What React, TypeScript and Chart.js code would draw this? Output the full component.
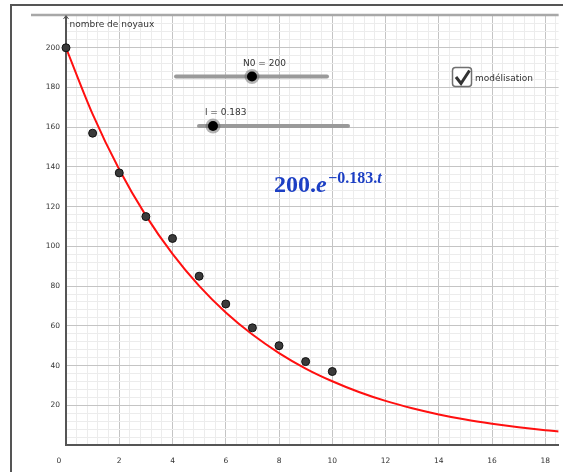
import React, { useEffect, useRef } from "react";
import { Chart, registerables } from "chart.js";

Chart.register(...registerables);

// Measured decay data (t, nombre de noyaux)
const sampleTimes = [0, 1, 2, 3, 4, 5, 6, 7, 8, 9, 10];
const sampleCounts = [200, 157, 137, 115, 104, 85, 71, 59, 50, 42, 37];

// Model curve
const curveTimes = [0, 1, 2, 3, 4, 5, 6, 7, 8, 9, 10, 11, 12, 13, 14, 15, 16, 17, 18, 18.5];
const curveCounts = [200, 166.6, 138.7, 115.5, 96.2, 80.1, 66.7, 55.6, 46.3, 38.5, 32.1, 26.7, 22.2, 18.5, 15.4, 12.8, 10.7, 8.9, 7.4, 6.8];

const xMax = 18.5;
const yMax = 216.5;
const xMinorStep = 0.4;
const yMinorStep = 4;
const xMajorStep = 2;
const yMajorStep = 20;

const yTitle = "nombre de noyaux";
const slider1Label = "N0 = 200";
const slider2Label = "l = 0.183";
const checkboxLabel = "modélisation";
const formulaMain = "200.";
const formulaE = "e";
const formulaExp = "−0.183.";
const formulaT = "t";

const isMultiple = (v: number, step: number) => Math.abs(v / step - Math.round(v / step)) < 1e-6;

function gridValues(max: number, step: number) {
  const out: { value: number }[] = [];
  for (let i = 0; i * step <= max + 1e-9; i++) out.push({ value: Math.round(i * step * 1000) / 1000 });
  return out;
}

const decorPlugin = {
  id: "decor",
  afterDraw(chart: any) {
    const ctx = chart.ctx as CanvasRenderingContext2D;
    const area = chart.chartArea;
    ctx.save();
    // outer frame
    ctx.strokeStyle = "#555";
    ctx.lineWidth = 2;
    ctx.beginPath();
    ctx.moveTo(563, 5);
    ctx.lineTo(11, 5);
    ctx.lineTo(11, 472);
    ctx.stroke();
    // top gray bar
    ctx.strokeStyle = "#a8a8a8";
    ctx.lineWidth = 2.5;
    ctx.beginPath();
    ctx.moveTo(31, 15);
    ctx.lineTo(area.right, 15);
    ctx.stroke();
    // y axis arrow
    ctx.strokeStyle = "#555";
    ctx.lineWidth = 1;
    ctx.beginPath();
    ctx.moveTo(area.left - 2.5, 19);
    ctx.lineTo(area.left, 15.5);
    ctx.lineTo(area.left + 2.5, 19);
    ctx.stroke();
    // y title
    ctx.fillStyle = "#333";
    ctx.font = "9px 'DejaVu Sans'";
    ctx.textBaseline = "alphabetic";
    ctx.textAlign = "left";
    ctx.fillText(yTitle, area.left + 3.5, 27);
    // origin label
    ctx.font = "7.5px 'DejaVu Sans'";
    ctx.textAlign = "center";
    ctx.textBaseline = "middle";
    ctx.fillText("0", 59, 461);

    // sliders
    const drawSlider = (x1: number, x2: number, y: number, knob: number) => {
      ctx.strokeStyle = "#9a9a9a";
      ctx.lineWidth = 4;
      ctx.lineCap = "round";
      ctx.beginPath();
      ctx.moveTo(x1, y);
      ctx.lineTo(x2, y);
      ctx.stroke();
      ctx.fillStyle = "rgba(90,90,90,0.45)";
      ctx.beginPath();
      ctx.arc(knob, y, 7.5, 0, Math.PI * 2);
      ctx.fill();
      ctx.fillStyle = "#000";
      ctx.beginPath();
      ctx.arc(knob, y, 5, 0, Math.PI * 2);
      ctx.fill();
    };
    drawSlider(176, 327, 76.5, 252);
    drawSlider(199, 348, 126, 213);
    ctx.fillStyle = "#333";
    ctx.font = "9px 'DejaVu Sans'";
    ctx.textAlign = "left";
    ctx.textBaseline = "alphabetic";
    ctx.fillText(slider1Label, 243, 65.5);
    ctx.fillText(slider2Label, 205, 114.5);

    // checkbox
    ctx.fillStyle = "#fff";
    ctx.strokeStyle = "#707070";
    ctx.lineWidth = 1.5;
    ctx.beginPath();
    (ctx as any).roundRect(452.5, 67.5, 19, 19, 3);
    ctx.fill();
    ctx.stroke();
    ctx.strokeStyle = "#333";
    ctx.lineWidth = 3;
    ctx.lineCap = "butt";
    ctx.lineJoin = "miter";
    ctx.beginPath();
    ctx.moveTo(456, 77);
    ctx.lineTo(461, 83.5);
    ctx.lineTo(469.5, 70.5);
    ctx.stroke();
    ctx.fillStyle = "#333";
    ctx.fillText(checkboxLabel, 475, 80.5);

    // formula
    ctx.fillStyle = "#1c3fc4";
    ctx.font = "bold 24px 'Liberation Serif'";
    let x = 274;
    ctx.fillText(formulaMain, x, 192);
    x += ctx.measureText(formulaMain).width;
    ctx.font = "italic bold 24px 'Liberation Serif'";
    ctx.fillText(formulaE, x, 192);
    x += ctx.measureText(formulaE).width + 1.5;
    ctx.font = "bold 16px 'Liberation Serif'";
    ctx.fillText(formulaExp, x, 183);
    x += ctx.measureText(formulaExp).width;
    ctx.font = "italic bold 16px 'Liberation Serif'";
    ctx.fillText(formulaT, x, 183);
    ctx.restore();
  },
};

export default function App() {
  const ref = useRef<HTMLCanvasElement>(null);
  useEffect(() => {
    if (!ref.current) return;
    const chart = new Chart(ref.current, {
      type: "scatter",
      data: {
        datasets: [
          {
            type: "scatter",
            data: sampleTimes.map((t, i) => ({ x: t, y: sampleCounts[i] })),
            backgroundColor: "#3a3a3a",
            borderColor: "#111",
            borderWidth: 1,
            pointRadius: 4,
            order: 0,
            clip: false as any,
          },
          {
            type: "line",
            data: curveTimes.map((t, i) => ({ x: t, y: curveCounts[i] })),
            borderColor: "#ff1010",
            borderWidth: 2,
            pointRadius: 0,
            cubicInterpolationMode: "monotone",
            fill: false,
            order: 1,
          } as any,
        ],
      },
      options: {
        responsive: false,
        animation: false,
        layout: { padding: { left: 0, top: 15, right: 7, bottom: 0 } },
        plugins: { legend: { display: false }, tooltip: { enabled: false } },
        scales: {
          x: {
            type: "linear",
            min: 0,
            max: xMax,
            afterFit: (s: any) => {
              s.height = 27;
            },
            afterBuildTicks: (s: any) => {
              s.ticks = gridValues(xMax, xMinorStep);
            },
            grid: {
              drawTicks: false,
              color: (c: any) => (c.tick && isMultiple(c.tick.value, xMajorStep) ? "#c4c4c4" : "#ececec"),
              lineWidth: 1,
            },
            border: { display: true, color: "#555", width: 2 },
            ticks: {
              autoSkip: false,
              maxRotation: 0,
              padding: 12,
              color: "#333",
              font: { family: "'DejaVu Sans'", size: 7.5 },
              callback: (v: any) => {
                const n = Number(v);
                return n !== 0 && isMultiple(n, xMajorStep) ? String(Math.round(n)) : "";
              },
            },
          },
          y: {
            type: "linear",
            min: 0,
            max: yMax,
            afterFit: (s: any) => {
              s.width = 66;
            },
            afterBuildTicks: (s: any) => {
              s.ticks = gridValues(yMax, yMinorStep);
            },
            grid: {
              drawTicks: false,
              color: (c: any) => (c.tick && isMultiple(c.tick.value, yMajorStep) ? "#c4c4c4" : "#ececec"),
              lineWidth: 1,
            },
            border: { display: true, color: "#555", width: 2 },
            ticks: {
              autoSkip: false,
              padding: 6,
              color: "#333",
              font: { family: "'DejaVu Sans'", size: 7.5 },
              callback: (v: any) => {
                const n = Number(v);
                return n !== 0 && isMultiple(n, yMajorStep) ? String(Math.round(n)) : "";
              },
            },
          },
        },
      },
      plugins: [decorPlugin],
    });
    return () => chart.destroy();
  }, []);

  return (
    <div style={{ position: "fixed", left: 0, top: 0, width: 568, height: 472, background: "#fff" }}>
      <canvas ref={ref} width={568} height={472} style={{ display: "block" }} />
    </div>
  );
}
